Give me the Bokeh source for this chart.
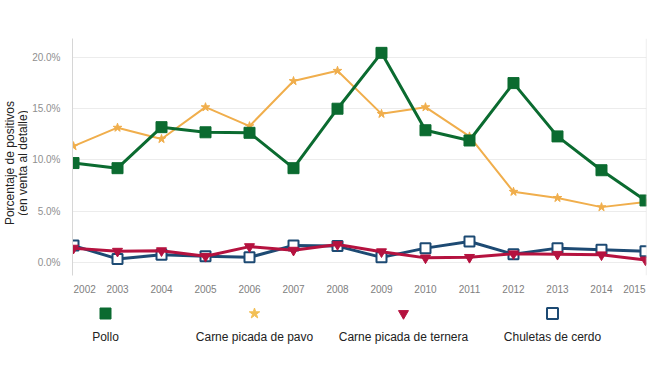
import math
from bokeh.plotting import figure
from bokeh.models import Range1d, FixedTicker, PrintfTickFormatter, Span
from bokeh.layouts import column, row
from bokeh.embed import file_html
from bokeh.resources import INLINE
from bokeh.core.properties import value

years = [2002, 2003, 2004, 2005, 2006, 2007, 2008, 2009, 2010, 2011, 2012, 2013, 2014, 2015]
year_labels = [str(y) for y in years]
pollo = [9.7, 9.2, 13.2, 12.7, 12.65, 9.2, 15.0, 20.45, 12.9, 11.9, 17.5, 12.3, 9.0, 6.05]
pavo = [11.35, 13.15, 12.05, 15.15, 13.3, 17.7, 18.7, 14.5, 15.15, 12.3, 6.9, 6.3, 5.4, 5.9]
ternera = [1.4, 1.1, 1.15, 0.6, 1.55, 1.2, 1.75, 1.05, 0.45, 0.5, 0.85, 0.8, 0.75, 0.25]
cerdo = [1.65, 0.35, 0.75, 0.6, 0.5, 1.65, 1.6, 0.5, 1.4, 2.05, 0.8, 1.4, 1.25, 1.1]
y_ticks = [0, 5, 10, 15, 20]
series_names = ["Pollo", "Carne picada de pavo", "Carne picada de ternera", "Chuletas de cerdo"]
y_title_lines = ["Porcentaje de positivos", "(en venta al detalle)"]

GREEN = "#0b6b30"
ORANGE = "#f0ae4c"
RED = "#b5123f"
BLUE = "#1d4a73"
FONT = "Liberation Sans"

TOTAL_W = 648
TITLE_W = 28
AXIS_W = 44
MAIN_H = 277
TOP = 38
BOTTOM = 2
RIGHT = 2

x_range = Range1d(2001.977, 2015.023)
y_range = Range1d(-1.27, 21.85)

# ---- y-axis title column ----
tf = figure(width=TITLE_W, height=MAIN_H, output_backend="svg", toolbar_location=None,
            x_range=Range1d(-0.76, 1.48), y_range=y_range,
            min_border_left=0, min_border_right=0, min_border_top=TOP, min_border_bottom=BOTTOM)
tf.axis.visible = False
tf.grid.visible = False
tf.outline_line_color = None
tf.text(x=list(range(len(y_title_lines))), y=[9.7] * len(y_title_lines), text=y_title_lines,
        angle=math.pi / 2, text_align="center", text_baseline="middle",
        text_font=value(FONT), text_font_size="12px", text_color="#222222")

# ---- main chart ----
p = figure(width=TOTAL_W - TITLE_W, height=MAIN_H, output_backend="svg", toolbar_location=None,
           x_range=x_range, y_range=y_range,
           min_border_left=AXIS_W, min_border_right=RIGHT, min_border_top=TOP, min_border_bottom=BOTTOM)
p.outline_line_color = None

p.yaxis.ticker = FixedTicker(ticks=y_ticks)
p.yaxis.formatter = PrintfTickFormatter(format="%.1f%%")
p.yaxis.major_tick_line_color = None
p.yaxis.minor_tick_line_color = None
p.yaxis.axis_line_color = "#d6d6d6"
p.yaxis.major_label_text_color = "#8f8f8f"
p.yaxis.major_label_text_font = FONT
p.yaxis.major_label_text_font_size = "10px"
p.yaxis.major_label_standoff = 6
p.xaxis.visible = False

p.xgrid.grid_line_color = None
p.ygrid.ticker = FixedTicker(ticks=y_ticks)
p.ygrid.grid_line_color = "#ececec"

p.add_layout(Span(location=2015.02, dimension="height", line_color="#e2e2e2", line_width=1))

p.line(years, pavo, line_color=ORANGE, line_width=2)
p.scatter(years, pavo, marker="star", size=9, fill_color=ORANGE, line_color=ORANGE)

p.line(years, pollo, line_color=GREEN, line_width=3)
p.scatter(years, pollo, marker="square", size=11, fill_color=GREEN, line_color=GREEN)

p.line(years, cerdo, line_color=BLUE, line_width=3)
p.scatter(years, cerdo, marker="square", size=10, fill_color="white", line_color=BLUE, line_width=2)

p.line(years, ternera, line_color=RED, line_width=3)
p.scatter(years, ternera, marker="inverted_triangle", size=10, fill_color=RED, line_color=RED)

# ---- year labels + legend (below the chart) ----
LEG_H = 83
YEAR_ROW, MARKER_ROW, LABEL_ROW = 11, 36, 59
leg = figure(width=TOTAL_W, height=LEG_H, output_backend="svg", toolbar_location=None,
             x_range=x_range, y_range=Range1d(LEG_H, 0),
             min_border_left=TITLE_W + AXIS_W, min_border_right=RIGHT, min_border_top=0, min_border_bottom=0)
leg.extra_x_ranges = {"leg": Range1d(-0.2215, 3.631)}
leg.axis.visible = False
leg.grid.visible = False
leg.outline_line_color = None

aligns = ["left"] + ["center"] * (len(years) - 2) + ["right"]
leg.text(x=years, y=[YEAR_ROW] * len(years), text=year_labels, text_align=aligns,
         text_baseline="middle", text_font=value(FONT), text_font_size="10px", text_color="#808080")

idx = list(range(len(series_names)))
leg.scatter([idx[0]], [MARKER_ROW], marker="square", size=11, fill_color=GREEN, line_color=GREEN,
            x_range_name="leg")
leg.scatter([idx[1]], [MARKER_ROW], marker="star", size=11, fill_color="#f2bf55", line_color="#f2bf55",
            x_range_name="leg")
leg.scatter([idx[2]], [MARKER_ROW], marker="inverted_triangle", size=10, fill_color=RED, line_color=RED,
            x_range_name="leg")
leg.scatter([idx[3]], [MARKER_ROW], marker="square", size=11, fill_color="white", line_color=BLUE,
            line_width=2, x_range_name="leg")
leg.text(x=idx, y=[LABEL_ROW] * len(idx), text=series_names, text_align="center", text_baseline="middle",
         text_font=value(FONT), text_font_size="12px", text_color="#222222", x_range_name="leg")

layout = column(row(tf, p, spacing=0), leg, spacing=0)
open("out.html", "w").write(file_html(layout, INLINE))
